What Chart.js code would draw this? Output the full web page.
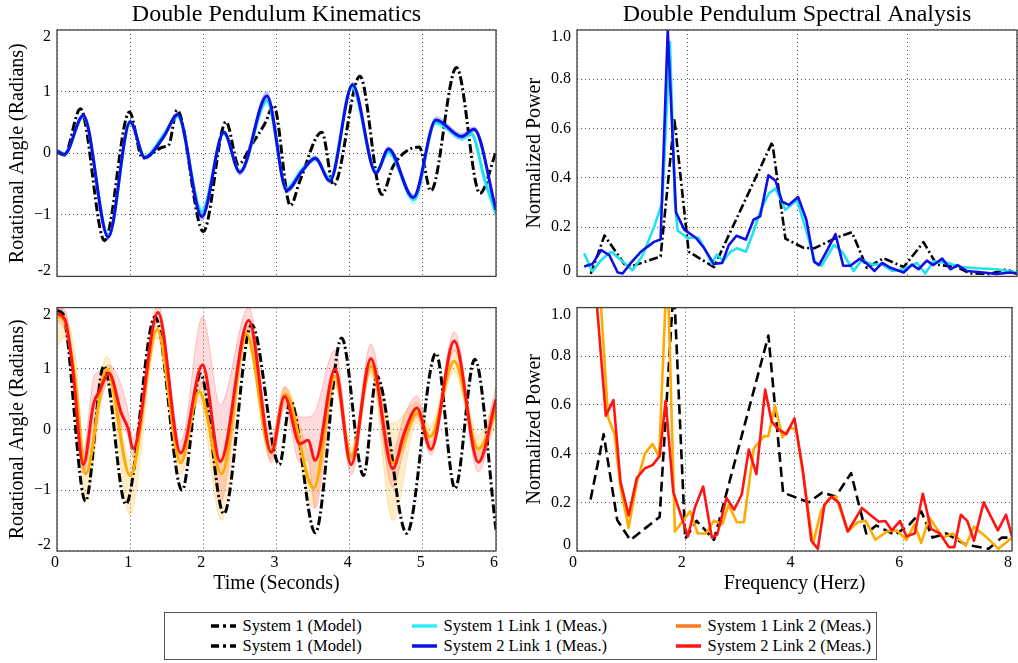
<!DOCTYPE html>
<html>
<head>
<meta charset="utf-8">
<title>Double Pendulum</title>
<script src="https://cdn.jsdelivr.net/npm/chart.js@4.4.1/dist/chart.umd.min.js"></script>
<style>
  html, body { margin: 0; padding: 0; background: #fff; overflow: hidden; }
  #page { position: relative; width: 1018px; height: 663px; }
  #page canvas { position: absolute; }
  #legend {
    position: absolute; left: 164px; top: 612px; width: 711px; height: 46px;
    border: 1.5px solid #555; background: #fff;
    font-family: "Liberation Serif", serif; font-size: 16.5px; color: #000;
  }
  .key { position: absolute; height: 20px; display: flex; align-items: center; white-space: nowrap; }
  .key svg { margin-right: 7px; }
</style>
</head>
<body>
<div id="page">
  <canvas id="kin1" width="510" height="292" style="left:0;top:0"></canvas>
  <canvas id="spec1" width="508" height="292" style="left:510px;top:0"></canvas>
  <canvas id="kin2" width="510" height="308" style="left:0;top:292px"></canvas>
  <canvas id="spec2" width="508" height="308" style="left:510px;top:292px"></canvas>
  <div id="legend"></div>
</div>
<script>
/* Double pendulum: joint angles over time and their power spectra */
"use strict";

const SERIF = "'Liberation Serif', 'Times New Roman', serif";

const C = {
  model: "#000000",
  cyan: "#1fe2ee",
  blue: "#1010e6",
  orange: "#ffaa00",
  orangeKey: "#ff7a1f",
  red: "#ff1414"
};

// ---- axis ticks ----
const timeTicks = [0, 1, 2, 3, 4, 5, 6];
const timeTickLabels = ["0", "1", "2", "3", "4", "5", "6"];
const angleTicks = [-2, -1, 0, 1, 2];
const angleTickLabels = ["-2", "\u22121", "0", "1", "2"];
const freqTicks = [0, 2, 4, 6, 8];
const freqTickLabels = ["0", "2", "4", "6", "8"];
const powerTicks = [0, 0.2, 0.4, 0.6, 0.8, 1.0];
const powerTickLabels = ["0", "0.2", "0.4", "0.6", "0.8", "1.0"];

// ---- link 1 angle (rad) vs time (s) ----
// model: [t, angle]
const link1Model = [[0,0.02],[0.1,-0.03],[0.32,0.72],[0.65,-1.42],[0.99,0.67],[1.17,-0.08],[1.45,0.10],[1.53,0.14],[1.64,0.70],[2.0,-1.27],[2.31,0.51],[2.48,-0.18],[2.66,0.14],[2.85,0.50],[2.96,0.78],[3.19,-0.85],[3.32,-0.45],[3.62,0.34],[3.78,-0.52],[4.14,1.25],[4.44,-0.67],[4.6,-0.20],[4.95,0.10],[5.11,-0.61],[5.46,1.39],[5.78,-0.65],[6.0,0.02]];
// measured: [t, mean, band low, band high]
const link1Sys1 = [[0,0.04,0.01,0.07],[0.1,-0.02,-0.06,0.02],[0.36,0.60,0.56,0.64],[0.70,-1.34,-1.39,-1.29],[1.0,0.50,0.46,0.54],[1.2,-0.06,-0.10,-0.02],[1.46,0.30,0.25,0.35],[1.65,0.60,0.56,0.64],[1.98,-0.95,-1.03,-0.88],[2.28,0.33,0.29,0.37],[2.50,-0.30,-0.34,-0.26],[2.87,0.85,0.80,0.90],[3.14,-0.58,-0.66,-0.50],[3.35,-0.27,-0.33,-0.21],[3.53,-0.09,-0.13,-0.05],[3.73,-0.42,-0.47,-0.37],[4.03,1.08,1.04,1.12],[4.36,-0.30,-0.35,-0.25],[4.53,0.02,-0.04,0.07],[4.88,-0.75,-0.83,-0.68],[5.17,0.50,0.45,0.55],[5.55,0.25,0.20,0.30],[5.66,0.32,0.27,0.37],[5.85,-0.45,-0.54,-0.36],[6.0,-0.98,-1.06,-0.90]];
const link1Sys2 = [[0,0.04,0.01,0.07],[0.1,-0.02,-0.05,0.01],[0.36,0.61,0.57,0.65],[0.70,-1.36,-1.40,-1.31],[1.0,0.51,0.47,0.55],[1.2,-0.07,-0.10,-0.04],[1.46,0.27,0.23,0.32],[1.65,0.63,0.59,0.67],[1.98,-1.03,-1.10,-0.96],[2.28,0.34,0.30,0.38],[2.50,-0.31,-0.36,-0.27],[2.87,0.93,0.86,1.00],[3.14,-0.60,-0.64,-0.56],[3.35,-0.29,-0.33,-0.25],[3.53,-0.08,-0.12,-0.04],[3.73,-0.45,-0.49,-0.41],[4.04,1.11,1.07,1.15],[4.36,-0.32,-0.36,-0.28],[4.53,0.07,0.03,0.11],[4.87,-0.72,-0.77,-0.67],[5.18,0.54,0.49,0.59],[5.53,0.27,0.22,0.32],[5.70,0.39,0.35,0.43],[6.0,-0.92,-0.97,-0.86]];

// ---- link 2 angle (rad) vs time (s) ----
const link2Model = [[0,1.95],[0.08,1.90],[0.39,-1.18],[0.64,1.04],[0.94,-1.23],[1.34,1.85],[1.71,-1.00],[1.96,0.91],[2.28,-1.39],[2.66,1.72],[3.04,-0.58],[3.19,0.47],[3.53,-1.70],[3.89,1.50],[4.19,-0.76],[4.37,0.87],[4.78,-1.71],[5.18,1.25],[5.44,-0.97],[5.71,1.15],[6.0,-1.65]];
const link2Sys1 = [[0,1.85,1.35,2.05],[0.10,1.78,1.50,1.95],[0.25,0.80,0.60,1.20],[0.39,-0.73,-1.20,-0.50],[0.68,0.99,0.80,1.20],[1.0,-0.76,-1.40,-0.50],[1.37,1.64,1.50,1.80],[1.69,-0.55,-0.75,-0.40],[1.94,0.62,0.45,0.80],[2.25,-0.73,-1.50,-0.55],[2.59,1.57,1.45,1.70],[2.92,-0.37,-0.50,-0.20],[3.12,0.58,0.40,0.70],[3.51,-0.97,-1.30,-0.50],[3.80,0.87,0.70,1.05],[4.02,-0.45,-0.60,-0.30],[4.29,1.04,0.90,1.20],[4.59,-0.55,-1.50,0.10],[4.92,0.26,0.10,0.45],[5.10,-0.12,-0.30,0.05],[5.43,1.12,0.95,1.30],[5.76,-0.32,-0.50,-0.10],[6.0,0.29,0.05,0.55]];
const link2Sys2 = [[0,1.90,1.80,2.00],[0.11,1.80,1.60,1.95],[0.21,1.05,0.85,1.25],[0.36,-0.58,-0.72,-0.35],[0.50,0.42,0.10,0.85],[0.58,0.63,0.40,0.95],[0.71,0.92,0.80,1.05],[0.88,0.26,0.05,0.72],[0.97,0.02,-0.10,0.30],[1.04,-0.32,-0.45,-0.15],[1.38,1.92,1.80,2.05],[1.69,-0.39,-0.55,-0.20],[1.99,1.06,0.70,1.85],[2.23,-0.53,-1.20,0.40],[2.62,1.79,1.65,2.00],[2.93,-0.38,-0.55,-0.15],[3.11,0.54,0.35,0.70],[3.32,-0.24,-0.55,0.20],[3.43,-0.18,-0.50,0.20],[3.53,-0.51,-1.30,0.30],[3.80,0.99,0.75,1.30],[4.02,-0.58,-0.75,-0.40],[4.29,1.16,0.95,1.40],[4.59,-0.65,-0.95,-0.35],[4.74,-0.08,-0.35,0.20],[4.92,0.35,0.20,0.55],[5.11,-0.33,-0.42,-0.20],[5.43,1.45,1.30,1.60],[5.76,-0.54,-0.70,-0.35],[6.0,0.49,0.30,0.70]];

// ---- normalized power vs frequency (Hz): [f, power] ----
const spec1Model = [[0.25,0.01],[0.50,0.166],[0.86,0.05],[0.98,0.04],[1.52,0.081],[1.77,0.64],[2.03,0.10],[2.49,0.038],[3.55,0.545],[3.79,0.153],[4.12,0.116],[4.31,0.114],[4.73,0.158],[5.0,0.179],[5.27,0.035],[5.57,0.074],[5.94,0.038],[6.3,0.139],[6.54,0.048],[6.9,0.038],[7.15,0.012],[7.51,0.01],[7.81,0.029],[8.0,0.01]];
const spec1Sys1 = [[0.13,0.094],[0.28,0.02],[0.44,0.067],[0.62,0.10],[0.80,0.067],[1.01,0.025],[1.19,0.084],[1.40,0.20],[1.55,0.30],[1.69,0.95],[1.78,0.30],[1.83,0.186],[2.0,0.157],[2.21,0.157],[2.33,0.11],[2.45,0.05],[2.54,0.088],[2.66,0.063],[2.79,0.10],[2.91,0.114],[3.07,0.10],[3.19,0.17],[3.34,0.27],[3.49,0.337],[3.61,0.357],[3.79,0.27],[4.0,0.31],[4.15,0.20],[4.33,0.057],[4.45,0.044],[4.67,0.127],[4.82,0.10],[5.03,0.022],[5.18,0.067],[5.37,0.048],[5.55,0.048],[5.73,0.022],[5.94,0.029],[6.18,0.055],[6.33,0.012],[6.48,0.061],[6.73,0.055],[6.97,0.038],[7.27,0.033],[7.63,0.029],[8.0,0.016]];
const spec1Sys2 = [[0.13,0.04],[0.28,0.05],[0.44,0.107],[0.59,0.085],[0.74,0.016],[0.83,0.012],[0.98,0.055],[1.16,0.10],[1.40,0.14],[1.52,0.15],[1.65,1.0],[1.80,0.26],[1.95,0.19],[2.16,0.157],[2.31,0.115],[2.49,0.05],[2.64,0.055],[2.76,0.127],[2.90,0.165],[3.07,0.15],[3.21,0.23],[3.33,0.244],[3.48,0.41],[3.61,0.388],[3.73,0.303],[3.85,0.29],[4.02,0.322],[4.17,0.23],[4.31,0.06],[4.40,0.046],[4.55,0.107],[4.70,0.172],[4.84,0.043],[4.97,0.043],[5.14,0.072],[5.27,0.052],[5.41,0.022],[5.55,0.055],[5.70,0.035],[5.94,0.016],[6.09,0.048],[6.21,0.029],[6.36,0.064],[6.48,0.046],[6.64,0.072],[6.79,0.029],[6.92,0.046],[7.09,0.022],[7.39,0.016],[7.63,0.01],[7.87,0.016],[8.0,0.012]];

const spec2Model = [[0.25,0.212],[0.49,0.48],[0.74,0.127],[0.98,0.045],[1.52,0.14],[1.78,1.1],[1.99,0.05],[2.2,0.124],[2.52,0.046],[3.52,0.885],[3.79,0.24],[4.05,0.218],[4.26,0.20],[4.51,0.24],[4.76,0.224],[5.04,0.32],[5.20,0.176],[5.32,0.072],[5.50,0.105],[5.85,0.066],[6.12,0.11],[6.33,0.163],[6.54,0.055],[6.79,0.072],[7.15,0.026],[7.57,0.009],[7.81,0.055],[8.0,0.055]];
const spec2Sys1 = [[0.36,1.3],[0.57,0.55],[0.69,0.48],[0.80,0.26],[0.95,0.095],[1.10,0.28],[1.25,0.40],[1.39,0.44],[1.51,0.387],[1.66,1.2],[1.80,0.08],[1.95,0.124],[2.08,0.163],[2.22,0.072],[2.37,0.072],[2.52,0.124],[2.67,0.11],[2.79,0.19],[2.94,0.118],[3.07,0.118],[3.25,0.42],[3.43,0.47],[3.52,0.473],[3.64,0.597],[3.78,0.467],[3.91,0.505],[4.03,0.50],[4.18,0.284],[4.34,0.029],[4.49,0.166],[4.65,0.218],[4.76,0.224],[4.98,0.08],[5.16,0.118],[5.31,0.124],[5.49,0.046],[5.70,0.08],[5.88,0.085],[6.06,0.046],[6.21,0.11],[6.33,0.033],[6.48,0.137],[6.73,0.055],[6.91,0.072],[7.15,0.022],[7.30,0.10],[7.51,0.061],[7.75,0.009],[8.0,0.055]];
const spec2Sys2 = [[0.28,1.25],[0.53,0.556],[0.67,0.62],[0.80,0.284],[0.95,0.146],[1.10,0.30],[1.25,0.34],[1.39,0.353],[1.52,0.39],[1.63,0.617],[1.77,0.243],[2.04,0.06],[2.17,0.18],[2.32,0.265],[2.48,0.055],[2.58,0.068],[2.75,0.218],[2.89,0.17],[3.03,0.232],[3.16,0.417],[3.30,0.316],[3.46,0.663],[3.58,0.532],[3.70,0.50],[3.85,0.48],[4.00,0.545],[4.15,0.336],[4.31,0.042],[4.43,0.009],[4.55,0.19],[4.68,0.223],[4.82,0.197],[4.98,0.08],[5.24,0.177],[5.39,0.149],[5.55,0.12],[5.67,0.123],[5.79,0.085],[5.94,0.123],[6.06,0.06],[6.21,0.072],[6.36,0.235],[6.51,0.091],[6.67,0.072],[6.84,0.016],[6.94,0.016],[7.06,0.149],[7.18,0.123],[7.30,0.042],[7.48,0.20],[7.74,0.085],[7.89,0.149],[8.0,0.06]];

// ---- legend ----
const legendLabels = [
  "System 1 (Model)", "System 1 (Model)",
  "System 1 Link 1 (Meas.)", "System 2 Link 1 (Meas.)",
  "System 1 Link 2 (Meas.)", "System 2 Link 2 (Meas.)"
];
const legendColors = [C.model, C.model, "#33ecf8", C.blue, C.orangeKey, C.red];

const DASH_DOT = [9, 3, 2, 3];
const DASHED = [10, 5];

// axes box drawn on top of the data
const frame = {
  id: "frame",
  afterDatasetsDraw(chart) {
    const { ctx, chartArea: a } = chart;
    ctx.save();
    ctx.strokeStyle = "#404040";
    ctx.lineWidth = 1.3;
    ctx.strokeRect(a.left, a.top, a.right - a.left, a.bottom - a.top);
    ctx.restore();
  }
};

// pull the end labels of the value axis inside the box
const insetEndLabels = {
  id: "insetEndLabels",
  beforeDraw(chart) {
    const items = chart.scales.y.getLabelItems();
    if (!items || items.length < 2) return;
    const lo = items[0].options, hi = items[items.length - 1].options;
    if (lo && lo.translation) lo.translation[1] -= 6;
    if (hi && hi.translation) hi.translation[1] += 7;
  }
};

function pts(rows, col) {
  return rows.map(r => ({ x: r[0], y: r[col] }));
}

function line(rows, color, width, dash, smooth, order) {
  return {
    data: pts(rows, 1),
    borderColor: color,
    borderWidth: width,
    borderDash: dash || [],
    borderJoinStyle: "round",
    pointRadius: 0,
    fill: false,
    order: order,
    tension: 0,
    cubicInterpolationMode: smooth ? "monotone" : "default"
  };
}

// shaded spread: upper edge, then lower edge filled back to it
function band(rows, fillColor, edgeColor) {
  const common = {
    borderColor: edgeColor,
    borderWidth: 0.8,
    pointRadius: 0,
    order: 9,
    cubicInterpolationMode: "monotone"
  };
  return [
    Object.assign({ data: pts(rows, 3), fill: false }, common),
    Object.assign({ data: pts(rows, 2), fill: "-1", backgroundColor: fillColor }, common)
  ];
}

function axis(min, max, ticks, labels, o) {
  return {
    type: "linear",
    min: min,
    max: max,
    afterBuildTicks: s => { s.ticks = ticks.map(v => ({ value: v })); },
    afterFit: o.fit,
    ticks: {
      display: !!o.showLabels,
      autoSkip: false,
      maxRotation: 0,
      padding: o.tickPad || 0,
      labelOffset: o.labelOffset || 0,
      color: "#000",
      font: { family: SERIF, size: 16 },
      callback: (v, i) => labels[i]
    },
    grid: { color: "#555", lineWidth: 1, drawTicks: false },
    border: { display: false, dash: [1, 3] },
    title: o.title
      ? { display: true, text: o.title, color: "#000", font: { family: SERIF, size: 20 }, padding: o.titlePad }
      : { display: false }
  };
}

function makeChart(id, cfg) {
  return new Chart(document.getElementById(id), {
    type: "line",
    data: { datasets: cfg.datasets },
    plugins: [frame, insetEndLabels],
    options: {
      responsive: false,
      animation: false,
      events: [],
      devicePixelRatio: 1,
      layout: { autoPadding: false, padding: cfg.padding },
      plugins: {
        legend: { display: false },
        tooltip: { enabled: false },
        title: cfg.title
          ? {
              display: true, text: cfg.title, fullSize: false, color: "#000",
              font: { family: SERIF, size: 24, weight: "normal" },
              padding: { top: 0, bottom: 1.2 }
            }
          : { display: false }
      },
      scales: { x: cfg.x, y: cfg.y }
    }
  });
}

function buildLegend() {
  const box = document.getElementById("legend");
  const colX = [45.5, 246.5, 510.5];
  const rowY = [2.5, 22.5];
  legendLabels.forEach((label, i) => {
    const col = Math.floor(i / 2), row = i % 2;
    const dash = col === 0 ? ' stroke-dasharray="8 4 3 4"' : "";
    const el = document.createElement("div");
    el.className = "key";
    el.style.left = colX[col] + "px";
    el.style.top = rowY[row] + "px";
    el.innerHTML =
      '<svg width="25" height="6"><line x1="0" y1="3" x2="25" y2="3" stroke="' +
      legendColors[i] + '" stroke-width="3.5"' + dash + "/></svg><span>" + label + "</span>";
    box.appendChild(el);
  });
}

function boot() {
  Chart.defaults.font.family = SERIF;

  // link 1, time domain
  makeChart("kin1", {
    title: "Double Pendulum Kinematics",
    padding: { left: 0, right: 14, top: 0, bottom: 6 },
    datasets: [
      line(link1Sys2, C.blue, 3, null, true, 1),
      line(link1Sys1, C.cyan, 3, null, true, 2),
      line(link1Model, C.model, 3, DASH_DOT, true, 3),
      ...band(link1Sys2, "rgba(70,70,255,0.28)", "rgba(90,90,255,0.35)"),
      ...band(link1Sys1, "rgba(60,235,245,0.28)", "rgba(60,235,245,0.35)")
    ],
    x: axis(0, 6, timeTicks, timeTickLabels, { fit: s => { s.height = 0; } }),
    y: axis(-2, 2, angleTicks, angleTickLabels, {
      showLabels: true, tickPad: 6,
      title: "Rotational Angle (Radians)", titlePad: { top: 6, bottom: 0 },
      fit: s => { s.width = 57; }
    })
  });

  // link 2, time domain
  makeChart("kin2", {
    padding: { left: 0, right: 14, top: 4, bottom: 0 },
    datasets: [
      line(link2Sys2, C.red, 3, null, true, 1),
      line(link2Sys1, C.orange, 3, null, true, 2),
      line(link2Model, C.model, 3, DASH_DOT, true, 3),
      ...band(link2Sys2, "rgba(255,40,40,0.17)", "rgba(255,60,60,0.35)"),
      ...band(link2Sys1, "rgba(255,190,60,0.27)", "rgba(255,190,60,0.45)")
    ],
    x: axis(0, 6, timeTicks, timeTickLabels, {
      showLabels: true, tickPad: 2, labelOffset: -2,
      title: "Time (Seconds)", titlePad: { top: 0, bottom: 4 },
      fit: s => { s.height = 49; }
    }),
    y: axis(-2, 2, angleTicks, angleTickLabels, {
      showLabels: true, tickPad: 6,
      title: "Rotational Angle (Radians)", titlePad: { top: 6, bottom: 0 },
      fit: s => { s.width = 57; }
    })
  });

  // link 1 spectrum
  makeChart("spec1", {
    title: "Double Pendulum Spectral Analysis",
    padding: { left: 0, right: 1, top: 0, bottom: 6 },
    datasets: [
      line(spec1Sys2, C.blue, 2.6, null, false, 1),
      line(spec1Sys1, C.cyan, 2.6, null, false, 2),
      line(spec1Model, C.model, 2.6, DASH_DOT, false, 3)
    ],
    x: axis(0, 8, freqTicks, freqTickLabels, { fit: s => { s.height = 0; } }),
    y: axis(0, 1, powerTicks, powerTickLabels, {
      showLabels: true, tickPad: 6,
      title: "Normalized Power", titlePad: { top: 12.5, bottom: 0 },
      fit: s => { s.width = 67; }
    })
  });

  // link 2 spectrum
  makeChart("spec2", {
    padding: { left: 0, right: 1, top: 4, bottom: 0 },
    datasets: [
      line(spec2Sys2, C.red, 2.6, null, false, 1),
      line(spec2Sys1, C.orange, 2.6, null, false, 2),
      line(spec2Model, C.model, 2.6, DASHED, false, 3)
    ],
    x: axis(0, 8, freqTicks, freqTickLabels, {
      showLabels: true, tickPad: 2, labelOffset: -4,
      title: "Frequency (Herz)", titlePad: { top: 0, bottom: 4 },
      fit: s => { s.height = 49; }
    }),
    y: axis(0, 1, powerTicks, powerTickLabels, {
      showLabels: true, tickPad: 6,
      title: "Normalized Power", titlePad: { top: 12.5, bottom: 0 },
      fit: s => { s.width = 67; }
    })
  });

  buildLegend();
}

document.readyState === "loading"
  ? document.addEventListener("DOMContentLoaded", boot)
  : boot();
</script>
</body>
</html>
